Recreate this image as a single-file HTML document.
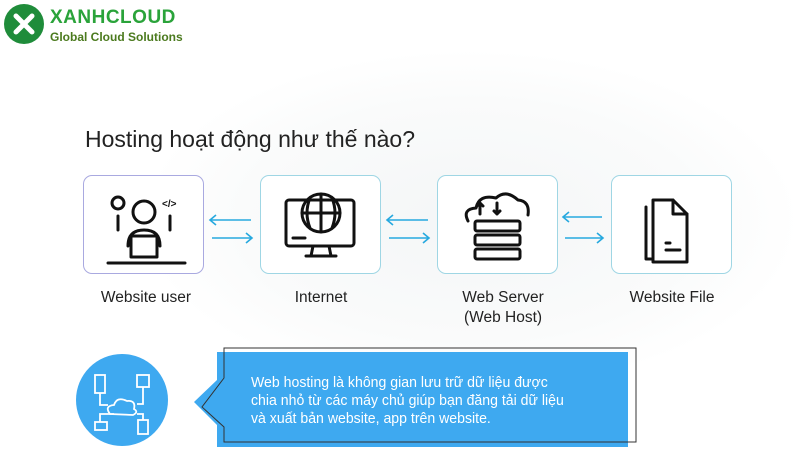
<!DOCTYPE html>
<html><head><meta charset="utf-8"><style>
body{margin:0;width:800px;height:463px;background:#fff;overflow:hidden;position:relative;font-family:"Liberation Sans",sans-serif}
.box{position:absolute;top:175px;width:121px;height:99px;border:1.5px solid #9fd6e4;border-radius:9px;background:#fff;box-sizing:border-box}
.lbl{position:absolute;font-size:15.5px;color:#222;text-align:center;width:160px;line-height:20px}
svg{position:absolute;left:0;top:0}
</style></head><body>
<div style="position:absolute;left:0;top:0;width:800px;height:463px;background:radial-gradient(ellipse at 470px 220px,#f4f6f7 0,#fafbfb 230px,#fff 330px)"></div>
<svg width="800" height="463" style="z-index:0">
<circle cx="24" cy="24" r="20" fill="#1f8c3a"/>
<path d="M16 16 L32 32 M32 16 L16 32" stroke="#fff" stroke-width="5" stroke-linecap="round"/>
</svg>
<div style="position:absolute;left:50px;top:7px;font-size:19px;font-weight:bold;color:#2aa33a;letter-spacing:0.5px">XANHCLOUD</div>
<div style="position:absolute;left:50px;top:30px;font-size:12px;font-weight:bold;color:#4b7a1e">Global Cloud Solutions</div>
<div style="position:absolute;left:85px;top:126px;font-size:23px;color:#222">Hosting hoạt động như thế nào?</div>
<div class="box" style="left:83px;border-color:#a9a9e0"></div>
<div class="box" style="left:260px"></div>
<div class="box" style="left:437px"></div>
<div class="box" style="left:611px"></div>
<svg width="800" height="463">
<g stroke="#27a9df" stroke-width="1.6" fill="none">
<path d="M251 220H210M216 215L210 220L216 225"/><path d="M212 238H252M246 233L252 238L246 243"/>
<path d="M428 220H387M393 215L387 220L393 225"/><path d="M389 238H429M423 233L429 238L423 243"/>
<path d="M602 217H563M569 212L563 217L569 222"/><path d="M565 238H603M597 233L603 238L597 243"/>
</g>
<g stroke="#111" stroke-width="3" fill="none" stroke-linecap="round" stroke-linejoin="round">
<circle cx="118" cy="203" r="6"/><circle cx="144" cy="212" r="11"/><path d="M128 246q0-16 16-16q16 0 16 16"/>
<rect x="131" y="236" width="26" height="21"/><path d="M108 263H185"/><path d="M118 216v14M170 216v14"/>
<text x="162" y="207" font-size="10" fill="#111" stroke="none" font-weight="bold">&lt;/&gt;</text>
<rect x="286" y="200" width="68" height="46" rx="3"/><circle cx="321" cy="213" r="19"/><path d="M302 213h38M321 194v38M310 198q-6 15 0 30M332 198q6 15 0 30"/>
<path d="M313 246l-2 10h20l-2-10M306 256h30M293 238h12"/>
<path d="M468 221q-6-12 8-13q3-14 20-10q10-9 22 2q12 1 10 15"/>
<path d="M480 214v-11M477 206l3-3 3 3M497 203v11M494 211l3 3 3-3"/>
<rect x="475" y="221" width="45" height="10" rx="2"/><rect x="475" y="235" width="45" height="10" rx="2"/><rect x="475" y="249" width="45" height="10" rx="2"/>
<path d="M646 207v52h5M653 200h20l14 14v48h-34z"/><path d="M673 200v14h14M666 243h4M666 250h14"/>
</g>
</svg>
<div class="lbl" style="left:66px;top:288px">Website user</div>
<div class="lbl" style="left:241px;top:288px">Internet</div>
<div class="lbl" style="left:423px;top:288px">Web Server<br>(Web Host)</div>
<div class="lbl" style="left:592px;top:288px">Website File</div>
<svg width="800" height="463">
<circle cx="122" cy="400" r="46" fill="#3ea9f0"/>
<g stroke="#fff" stroke-width="1.8" fill="none">
<rect x="95" y="375" width="10" height="18"/><rect x="137" y="375" width="12" height="12"/><path d="M143 387v10M100 393v12h8M143 397v7h-6"/>
<path d="M110 414q-6-8 4-9q3-9 13-4q9-1 7 8q5 3-1 6z"/>
<path d="M114 414h-14v8M137 414h6v6"/><rect x="95" y="422" width="12" height="8"/><rect x="138" y="420" width="10" height="14"/>
</g>
<path d="M217 352H628V447H217V425L194 402L217 380Z" fill="#3ea9f0"/>
<path d="M224 378V348H636V442H224V427L202 407Z" stroke="#333" stroke-width="1" fill="none"/>
</svg>
<div style="position:absolute;left:251px;top:374px;font-size:15px;line-height:18px;color:#fff;transform:scaleX(0.94);transform-origin:left top;white-space:nowrap">Web hosting là không gian lưu trữ dữ liệu được<br>chia nhỏ từ các máy chủ giúp bạn đăng tải dữ liệu<br>và xuất bản website, app trên website.</div>
</body></html>
